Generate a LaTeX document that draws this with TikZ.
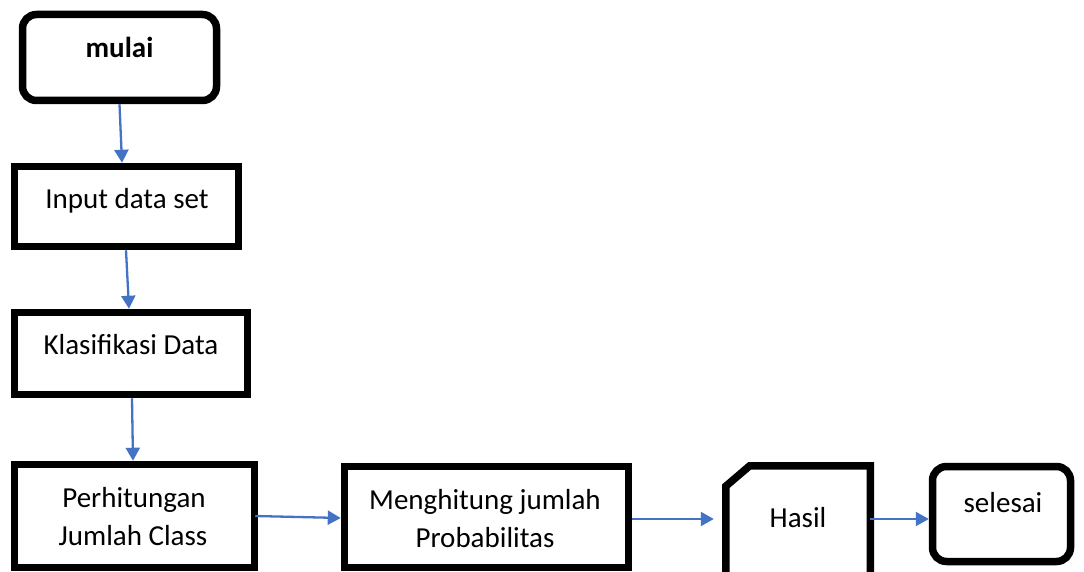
\documentclass[tikz,border=0pt]{standalone}
\usepackage{fontspec}
\setmainfont{Carlito}
\usetikzlibrary{arrows.meta}
\definecolor{arrowblue}{HTML}{4472C4}
\tikzset{
  boxstyle/.style={draw=black, line width=7.5pt, inner sep=0pt, rectangle},
  roundbox/.style={boxstyle, rounded corners=14pt},
  txt/.style={font=\fontsize{29}{36}\selectfont, anchor=base, inner sep=0pt},
  flow/.style={draw=arrowblue, line width=2.3pt, -{Triangle[length=13pt,width=14pt]}},
}
\begin{document}
\begin{tikzpicture}[x=1pt,y=-1pt]
\useasboundingbox (0,0) rectangle (1084,572);
\clip (0,0) rectangle (1084,572);
\fill[white] (0,0) rectangle (1084,572);

\node[roundbox, minimum width=194pt, minimum height=86pt] (mulai) at (119.5,57.5) {};
\node[txt, font=\fontsize{29}{36}\selectfont\bfseries] (tmulai) at (119.5,58) {mulai};

\node[boxstyle, minimum width=224pt, minimum height=80pt] (input) at (126.5,206.5) {};
\node[txt] (tinput) at (127,208) {Input data set};

\node[boxstyle, minimum width=233pt, minimum height=82pt] (klas) at (131,353.5) {};
\node[txt] (tklas) at (131,354) {Klasifikasi Data};

\node[boxstyle, minimum width=240pt, minimum height=103pt] (perh) at (134.5,516) {};
\node[txt] (tperh1) at (134,507) {Perhitungan};
\node[txt] (tperh2) at (133,545) {Jumlah Class};

\node[boxstyle, minimum width=284pt, minimum height=101pt] (meng) at (486.5,517) {};
\node[txt] (tmeng1) at (485,509) {Menghitung jumlah};
\node[txt] (tmeng2) at (485,547) {Probabilitas};

\node[rectangle, inner sep=0pt, outer sep=3.75pt, minimum width=137pt, minimum height=120pt] (hasil) at (798,529.5) {};
\draw[black, line width=7.5pt, line join=miter]
  (hasil.south west) -- ([yshift=-20.5pt]hasil.north west) -- ([xshift=24pt]hasil.north west) -- (hasil.north east) -- (hasil.south east);
\node[txt] (thasil) at (798,527) {Hasil};

\node[roundbox, minimum width=138pt, minimum height=95pt] (selesai) at (1001.5,514) {};
\node[txt] (tselesai) at (1003,512) {selesai};

\draw[flow] (mulai.south) -- ([xshift=-4.5pt]input.north);
\draw[flow] ([xshift=-0.5pt]input.south) -- ([xshift=-2pt]klas.north);
\draw[flow] ([xshift=1pt]klas.south) -- ([xshift=-1.5pt]perh.north);
\draw[flow] ([xshift=-3pt]perh.east) -- ([yshift=-1pt]meng.west);
\coordinate (mengout) at ([yshift=-2pt]meng.east);
\draw[flow] (mengout) -- ([xshift=-12pt]hasil.west |- mengout);
\coordinate (hasilout) at ([yshift=10.5pt]hasil.east);
\draw[flow] (hasilout) -- (selesai.west |- hasilout);
\end{tikzpicture}
\end{document}
